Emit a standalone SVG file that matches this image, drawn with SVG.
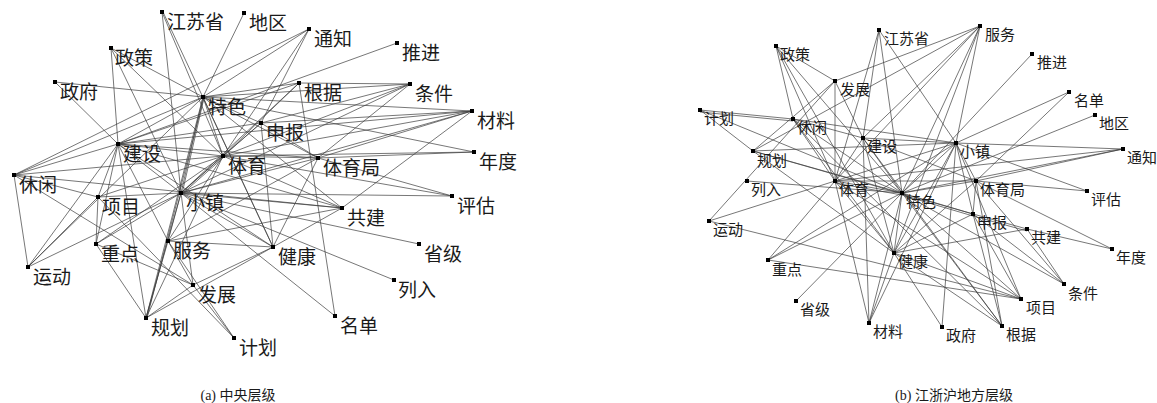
<svg xmlns="http://www.w3.org/2000/svg" width="1157" height="403" viewBox="0 0 1157 403">
<style>
.e{stroke:#3c3c3c;stroke-width:0.7;fill:none}
.m{fill:#000}
.la{font-family:"Noto Sans CJK SC","Noto Sans CJK JP",sans-serif;font-size:19px;fill:#1a1a1a}
.lb{font-family:"Noto Sans CJK SC","Noto Sans CJK JP",sans-serif;font-size:15px;fill:#1a1a1a}
.cap{font-family:"Liberation Serif","Noto Sans CJK SC",serif;font-size:14px;fill:#1a1a1a}
</style>
<rect width="1157" height="403" fill="#fff"/>
<g id="edges-a" class="e">
<line x1="162" y1="12" x2="181" y2="193"/><line x1="162" y1="12" x2="223" y2="156"/><line x1="163" y1="12" x2="273" y2="247"/>
<line x1="244" y1="13" x2="203" y2="97"/>
<line x1="309" y1="29" x2="203" y2="97"/><line x1="309" y1="29" x2="14" y2="175"/><line x1="309" y1="29" x2="223" y2="156"/><line x1="309" y1="29" x2="261" y2="123"/>
<line x1="397" y1="43" x2="118" y2="144"/>
<line x1="111" y1="48" x2="203" y2="97"/><line x1="111" y1="48" x2="181" y2="193"/><line x1="111" y1="48" x2="223" y2="156"/><line x1="111" y1="48" x2="118" y2="144"/>
<line x1="55" y1="82" x2="203" y2="97"/><line x1="55" y1="82" x2="118" y2="144"/>
<line x1="203" y1="97" x2="14" y2="175"/><line x1="203" y1="97" x2="118" y2="144"/><line x1="203" y1="97" x2="223" y2="156"/>
<line x1="203" y1="97" x2="181" y2="193"/><line x1="204.2" y1="97" x2="182.2" y2="193"/>
<line x1="203" y1="97" x2="146" y2="318"/><line x1="204" y1="97" x2="147" y2="318"/>
<line x1="203" y1="97" x2="261" y2="123"/><line x1="203" y1="97" x2="318" y2="158"/><line x1="203" y1="97" x2="472" y2="111"/><line x1="203" y1="97" x2="410" y2="84"/><line x1="203" y1="97" x2="474" y2="152"/><line x1="203" y1="97" x2="299" y2="83"/><line x1="203" y1="97" x2="273" y2="247"/><line x1="203" y1="97" x2="342" y2="208"/><line x1="203" y1="97" x2="28" y2="267"/>
<line x1="299" y1="83" x2="223" y2="156"/><line x1="299" y1="83" x2="181" y2="193"/><line x1="299" y1="83" x2="335" y2="316"/><line x1="299" y1="83" x2="410" y2="84"/><line x1="299" y1="83" x2="118" y2="144"/>
<line x1="410" y1="84" x2="261" y2="123"/><line x1="410" y1="84" x2="223" y2="156"/><line x1="410" y1="84" x2="318" y2="158"/><line x1="410" y1="84" x2="181" y2="193"/>
<line x1="472" y1="111" x2="261" y2="123"/><line x1="472" y1="111" x2="223" y2="156"/><line x1="472" y1="111" x2="342" y2="208"/><line x1="472" y1="111" x2="118" y2="144"/><line x1="472" y1="111" x2="181" y2="193"/><line x1="472" y1="111" x2="318" y2="158"/>
<line x1="474" y1="152" x2="318" y2="158"/><line x1="474" y1="152" x2="223" y2="156"/>
<line x1="452" y1="196" x2="318" y2="158"/><line x1="452" y1="196" x2="181" y2="193"/><line x1="452" y1="196" x2="223" y2="156"/>
<line x1="261" y1="123" x2="223" y2="156"/><line x1="261" y1="123" x2="181" y2="193"/><line x1="261" y1="123" x2="118" y2="144"/><line x1="261" y1="123" x2="273" y2="247"/><line x1="261" y1="123" x2="318" y2="158"/>
<line x1="318" y1="158" x2="223" y2="156"/><line x1="318" y1="158" x2="181" y2="193"/><line x1="318" y1="158" x2="118" y2="144"/><line x1="318" y1="158" x2="273" y2="247"/><line x1="318" y1="158" x2="168" y2="241"/>
<line x1="118" y1="144" x2="223" y2="156"/><line x1="118" y1="144" x2="181" y2="193"/><line x1="118" y1="144" x2="98" y2="197"/><line x1="118" y1="144" x2="96" y2="244"/><line x1="118" y1="144" x2="14" y2="175"/><line x1="118" y1="144" x2="273" y2="247"/><line x1="118" y1="144" x2="342" y2="208"/><line x1="118" y1="144" x2="168" y2="241"/><line x1="118" y1="144" x2="146" y2="318"/>
<line x1="14" y1="175" x2="98" y2="197"/><line x1="14" y1="175" x2="28" y2="267"/><line x1="14" y1="175" x2="223" y2="156"/><line x1="14" y1="175" x2="342" y2="208"/><line x1="14" y1="175" x2="193" y2="285"/>
<line x1="98" y1="197" x2="181" y2="193"/><line x1="98" y1="197" x2="96" y2="244"/><line x1="98" y1="197" x2="28" y2="267"/><line x1="98" y1="197" x2="223" y2="156"/><line x1="98" y1="197" x2="234" y2="338"/>
<line x1="181" y1="193" x2="223" y2="156"/><line x1="182" y1="194" x2="224" y2="157"/>
<line x1="181" y1="193" x2="168" y2="241"/><line x1="181" y1="193" x2="146" y2="318"/><line x1="181" y1="193" x2="273" y2="247"/><line x1="181" y1="193" x2="342" y2="208"/><line x1="181" y1="193" x2="193" y2="285"/><line x1="181" y1="193" x2="96" y2="244"/><line x1="181" y1="193" x2="28" y2="267"/><line x1="181" y1="193" x2="335" y2="316"/><line x1="181" y1="193" x2="394" y2="280"/><line x1="181" y1="193" x2="419" y2="244"/>
<line x1="342" y1="208" x2="223" y2="156"/><line x1="342" y1="208" x2="273" y2="247"/><line x1="342" y1="208" x2="168" y2="241"/>
<line x1="168" y1="241" x2="193" y2="285"/><line x1="168" y1="241" x2="146" y2="318"/><line x1="168" y1="241" x2="273" y2="247"/><line x1="168" y1="241" x2="223" y2="156"/><line x1="168" y1="241" x2="234" y2="338"/>
<line x1="193" y1="285" x2="96" y2="244"/><line x1="193" y1="285" x2="146" y2="318"/><line x1="193" y1="285" x2="273" y2="247"/><line x1="193" y1="285" x2="234" y2="338"/>
<line x1="96" y1="244" x2="146" y2="318"/><line x1="96" y1="244" x2="223" y2="156"/>
<line x1="146" y1="318" x2="223" y2="156"/><line x1="146" y1="318" x2="273" y2="247"/>
<line x1="28" y1="267" x2="118" y2="144"/>
</g>
<g id="edges-b" class="e">
<line x1="879" y1="30" x2="835" y2="181"/><line x1="879" y1="30" x2="863" y2="138"/><line x1="879" y1="30" x2="902" y2="193"/><line x1="879" y1="30" x2="956" y2="143"/>
<line x1="980" y1="26" x2="835" y2="81"/><line x1="980" y1="26" x2="956" y2="143"/><line x1="980" y1="26" x2="902" y2="193"/><line x1="980" y1="26" x2="835" y2="181"/><line x1="980" y1="26" x2="894" y2="253"/><line x1="980" y1="26" x2="863" y2="138"/><line x1="980" y1="26" x2="753" y2="151"/>
<line x1="776" y1="46" x2="835" y2="81"/><line x1="776" y1="46" x2="835" y2="181"/><line x1="776" y1="46" x2="902" y2="193"/><line x1="776" y1="46" x2="894" y2="253"/>
<line x1="1032" y1="54" x2="902" y2="193"/>
<line x1="1069" y1="92" x2="956" y2="143"/><line x1="1069" y1="92" x2="976" y2="181"/>
<line x1="1095" y1="115" x2="902" y2="193"/>
<line x1="700" y1="110" x2="793" y2="119"/><line x1="700" y1="112" x2="793" y2="121"/><line x1="700" y1="110" x2="753" y2="151"/><line x1="700" y1="110" x2="902" y2="193"/>
<line x1="793" y1="119" x2="776" y2="46"/><line x1="793" y1="119" x2="863" y2="138"/><line x1="793" y1="119" x2="956" y2="143"/><line x1="793" y1="119" x2="835" y2="181"/><line x1="793" y1="119" x2="902" y2="193"/><line x1="793" y1="119" x2="894" y2="253"/><line x1="793" y1="119" x2="1002" y2="326"/>
<line x1="863" y1="138" x2="956" y2="143"/><line x1="863" y1="138" x2="835" y2="181"/><line x1="863" y1="138" x2="902" y2="193"/><line x1="863" y1="138" x2="894" y2="253"/><line x1="863" y1="138" x2="976" y2="181"/><line x1="863" y1="138" x2="835" y2="81"/>
<line x1="956" y1="143" x2="1123" y2="149"/><line x1="956" y1="143" x2="1087" y2="191"/><line x1="956" y1="143" x2="835" y2="181"/><line x1="956" y1="143" x2="902" y2="193"/><line x1="956" y1="143" x2="894" y2="253"/><line x1="956" y1="143" x2="976" y2="181"/><line x1="956" y1="143" x2="973" y2="214"/><line x1="956" y1="143" x2="942" y2="327"/><line x1="956" y1="143" x2="1021" y2="299"/><line x1="956" y1="143" x2="869" y2="323"/>
<line x1="1123" y1="149" x2="976" y2="181"/><line x1="1123" y1="149" x2="902" y2="193"/><line x1="1123" y1="149" x2="835" y2="181"/>
<line x1="753" y1="151" x2="902" y2="193"/><line x1="753" y1="151" x2="894" y2="253"/><line x1="753" y1="151" x2="956" y2="143"/><line x1="753" y1="151" x2="973" y2="214"/><line x1="753" y1="151" x2="835" y2="81"/>
<line x1="747" y1="181" x2="902" y2="193"/>
<line x1="835" y1="181" x2="902" y2="193"/><line x1="835" y1="183" x2="902" y2="195"/><line x1="835" y1="181" x2="976" y2="181"/><line x1="835" y1="181" x2="894" y2="253"/><line x1="835" y1="181" x2="1021" y2="299"/><line x1="835" y1="181" x2="869" y2="323"/><line x1="835" y1="181" x2="835" y2="81"/><line x1="835" y1="181" x2="709" y2="221"/>
<line x1="976" y1="181" x2="1087" y2="191"/><line x1="976" y1="181" x2="1112" y2="249"/><line x1="976" y1="181" x2="1064" y2="284"/><line x1="976" y1="181" x2="973" y2="214"/><line x1="976" y1="181" x2="1002" y2="326"/><line x1="976" y1="181" x2="894" y2="253"/><line x1="976" y1="181" x2="902" y2="193"/>
<line x1="902" y1="193" x2="973" y2="214"/><line x1="902" y1="195" x2="973" y2="216"/><line x1="902" y1="193" x2="894" y2="253"/><line x1="902" y1="193" x2="1021" y2="299"/><line x1="902" y1="193" x2="1002" y2="326"/><line x1="902" y1="193" x2="1064" y2="284"/><line x1="902" y1="193" x2="869" y2="323"/><line x1="902" y1="193" x2="796" y2="301"/><line x1="902" y1="193" x2="768" y2="260"/>
<line x1="973" y1="214" x2="1027" y2="229"/><line x1="973" y1="216" x2="1027" y2="231"/><line x1="973" y1="214" x2="1021" y2="299"/><line x1="973" y1="214" x2="1002" y2="326"/><line x1="973" y1="214" x2="894" y2="253"/><line x1="973" y1="214" x2="1064" y2="284"/>
<line x1="709" y1="221" x2="1021" y2="299"/><line x1="709" y1="221" x2="835" y2="81"/>
<line x1="1027" y1="229" x2="1112" y2="249"/><line x1="1027" y1="229" x2="1064" y2="284"/><line x1="1027" y1="229" x2="894" y2="253"/>
<line x1="894" y1="253" x2="1021" y2="299"/><line x1="894" y1="253" x2="869" y2="323"/><line x1="894" y1="253" x2="942" y2="327"/><line x1="894" y1="253" x2="1002" y2="326"/>
<line x1="768" y1="260" x2="1021" y2="299"/><line x1="768" y1="260" x2="835" y2="181"/><line x1="768" y1="260" x2="956" y2="143"/>
<line x1="869" y1="323" x2="863" y2="138"/><line x1="1002" y1="326" x2="863" y2="138"/>
</g>
<g id="nodes-a">
<g id="a-jiangsu"><rect class="m" x="160" y="10" width="4" height="4"/><text class="la" x="167" y="29">江苏省</text></g>
<g id="a-diqu"><rect class="m" x="242" y="11" width="4" height="4"/><text class="la" x="249" y="30">地区</text></g>
<g id="a-tongzhi"><rect class="m" x="307" y="27" width="4" height="4"/><text class="la" x="314" y="46">通知</text></g>
<g id="a-tuijin"><rect class="m" x="395" y="41" width="4" height="4"/><text class="la" x="402" y="60">推进</text></g>
<g id="a-zhengce"><rect class="m" x="109" y="46" width="4" height="4"/><text class="la" x="115" y="65">政策</text></g>
<g id="a-zhengfu"><rect class="m" x="53" y="80" width="4" height="4"/><text class="la" x="60" y="99">政府</text></g>
<g id="a-tese"><rect class="m" x="201" y="95" width="4" height="4"/><text class="la" x="208" y="114">特色</text></g>
<g id="a-genju"><rect class="m" x="297" y="81" width="4" height="4"/><text class="la" x="304" y="100">根据</text></g>
<g id="a-tiaojian"><rect class="m" x="408" y="82" width="4" height="4"/><text class="la" x="415" y="101">条件</text></g>
<g id="a-cailiao"><rect class="m" x="470" y="109" width="4" height="4"/><text class="la" x="477" y="128">材料</text></g>
<g id="a-shenbao"><rect class="m" x="259" y="121" width="4" height="4"/><text class="la" x="266" y="140">申报</text></g>
<g id="a-jianshe"><rect class="m" x="116" y="142" width="4" height="4"/><text class="la" x="123" y="161">建设</text></g>
<g id="a-tiyu"><rect class="m" x="221" y="154" width="4" height="4"/><text class="la" x="228" y="173">体育</text></g>
<g id="a-tiyuju"><rect class="m" x="316" y="156" width="4" height="4"/><text class="la" x="323" y="175">体育局</text></g>
<g id="a-niandu"><rect class="m" x="472" y="150" width="4" height="4"/><text class="la" x="479" y="169">年度</text></g>
<g id="a-xiuxian"><rect class="m" x="12" y="173" width="4" height="4"/><text class="la" x="19" y="192">休闲</text></g>
<g id="a-xiangmu"><rect class="m" x="96" y="195" width="4" height="4"/><text class="la" x="102" y="214">项目</text></g>
<g id="a-xiaozhen"><rect class="m" x="179" y="191" width="4" height="4"/><text class="la" x="186" y="210">小镇</text></g>
<g id="a-pinggu"><rect class="m" x="450" y="194" width="4" height="4"/><text class="la" x="457" y="213">评估</text></g>
<g id="a-gongjian"><rect class="m" x="340" y="206" width="4" height="4"/><text class="la" x="347" y="225">共建</text></g>
<g id="a-zhongdian"><rect class="m" x="94" y="242" width="4" height="4"/><text class="la" x="101" y="261">重点</text></g>
<g id="a-fuwu"><rect class="m" x="166" y="239" width="4" height="4"/><text class="la" x="173" y="258">服务</text></g>
<g id="a-jiankang"><rect class="m" x="271" y="245" width="4" height="4"/><text class="la" x="278" y="264">健康</text></g>
<g id="a-shengji"><rect class="m" x="417" y="242" width="4" height="4"/><text class="la" x="424" y="261">省级</text></g>
<g id="a-yundong"><rect class="m" x="26" y="265" width="4" height="4"/><text class="la" x="33" y="284">运动</text></g>
<g id="a-fazhan"><rect class="m" x="191" y="283" width="4" height="4"/><text class="la" x="198" y="302">发展</text></g>
<g id="a-lieru"><rect class="m" x="392" y="278" width="4" height="4"/><text class="la" x="398" y="297">列入</text></g>
<g id="a-guihua"><rect class="m" x="144" y="316" width="4" height="4"/><text class="la" x="151" y="335">规划</text></g>
<g id="a-mingdan"><rect class="m" x="333" y="314" width="4" height="4"/><text class="la" x="340" y="333">名单</text></g>
<g id="a-jihua"><rect class="m" x="232" y="336" width="4" height="4"/><text class="la" x="239" y="355">计划</text></g>
</g>
<g id="nodes-b">
<g id="b-jiangsu"><rect class="m" x="877" y="28" width="4" height="4"/><text class="lb" x="884" y="44">江苏省</text></g>
<g id="b-fuwu"><rect class="m" x="978" y="24" width="4" height="4"/><text class="lb" x="985" y="40">服务</text></g>
<g id="b-zhengce"><rect class="m" x="774" y="44" width="4" height="4"/><text class="lb" x="780" y="60">政策</text></g>
<g id="b-tuijin"><rect class="m" x="1030" y="52" width="4" height="4"/><text class="lb" x="1037" y="68">推进</text></g>
<g id="b-fazhan"><rect class="m" x="833" y="79" width="4" height="4"/><text class="lb" x="840" y="95">发展</text></g>
<g id="b-mingdan"><rect class="m" x="1067" y="90" width="4" height="4"/><text class="lb" x="1074" y="106">名单</text></g>
<g id="b-jihua"><rect class="m" x="698" y="108" width="4" height="4"/><text class="lb" x="704" y="124">计划</text></g>
<g id="b-diqu"><rect class="m" x="1093" y="113" width="4" height="4"/><text class="lb" x="1099" y="129">地区</text></g>
<g id="b-xiuxian"><rect class="m" x="791" y="117" width="4" height="4"/><text class="lb" x="797" y="133">休闲</text></g>
<g id="b-jianshe"><rect class="m" x="861" y="136" width="4" height="4"/><text class="lb" x="867" y="152">建设</text></g>
<g id="b-xiaozhen"><rect class="m" x="954" y="141" width="4" height="4"/><text class="lb" x="960" y="157">小镇</text></g>
<g id="b-tongzhi"><rect class="m" x="1121" y="147" width="4" height="4"/><text class="lb" x="1127" y="163">通知</text></g>
<g id="b-guihua"><rect class="m" x="751" y="149" width="4" height="4"/><text class="lb" x="757" y="166">规划</text></g>
<g id="b-lieru"><rect class="m" x="745" y="179" width="4" height="4"/><text class="lb" x="751" y="195">列入</text></g>
<g id="b-tiyu"><rect class="m" x="833" y="179" width="4" height="4"/><text class="lb" x="839" y="195">体育</text></g>
<g id="b-tiyuju"><rect class="m" x="974" y="179" width="4" height="4"/><text class="lb" x="980" y="195">体育局</text></g>
<g id="b-pinggu"><rect class="m" x="1085" y="189" width="4" height="4"/><text class="lb" x="1091" y="205">评估</text></g>
<g id="b-tese"><rect class="m" x="900" y="191" width="4" height="4"/><text class="lb" x="906" y="207">特色</text></g>
<g id="b-shenbao"><rect class="m" x="971" y="212" width="4" height="4"/><text class="lb" x="977" y="228">申报</text></g>
<g id="b-yundong"><rect class="m" x="707" y="219" width="4" height="4"/><text class="lb" x="713" y="235">运动</text></g>
<g id="b-gongjian"><rect class="m" x="1025" y="227" width="4" height="4"/><text class="lb" x="1031" y="243">共建</text></g>
<g id="b-niandu"><rect class="m" x="1110" y="247" width="4" height="4"/><text class="lb" x="1116" y="263">年度</text></g>
<g id="b-jiankang"><rect class="m" x="892" y="251" width="4" height="4"/><text class="lb" x="898" y="267">健康</text></g>
<g id="b-zhongdian"><rect class="m" x="766" y="258" width="4" height="4"/><text class="lb" x="772" y="275">重点</text></g>
<g id="b-tiaojian"><rect class="m" x="1062" y="282" width="4" height="4"/><text class="lb" x="1068" y="299">条件</text></g>
<g id="b-xiangmu"><rect class="m" x="1019" y="297" width="4" height="4"/><text class="lb" x="1026" y="313">项目</text></g>
<g id="b-shengji"><rect class="m" x="794" y="299" width="4" height="4"/><text class="lb" x="800" y="315">省级</text></g>
<g id="b-cailiao"><rect class="m" x="867" y="321" width="4" height="4"/><text class="lb" x="873" y="337">材料</text></g>
<g id="b-zhengfu"><rect class="m" x="940" y="325" width="4" height="4"/><text class="lb" x="946" y="341">政府</text></g>
<g id="b-genju"><rect class="m" x="1000" y="324" width="4" height="4"/><text class="lb" x="1006" y="340">根据</text></g>
</g>
<g id="captions">
<text class="cap" x="238" y="400" text-anchor="middle">(a) 中央层级</text>
<text class="cap" x="954" y="400" text-anchor="middle">(b) 江浙沪地方层级</text>
</g>
</svg>
